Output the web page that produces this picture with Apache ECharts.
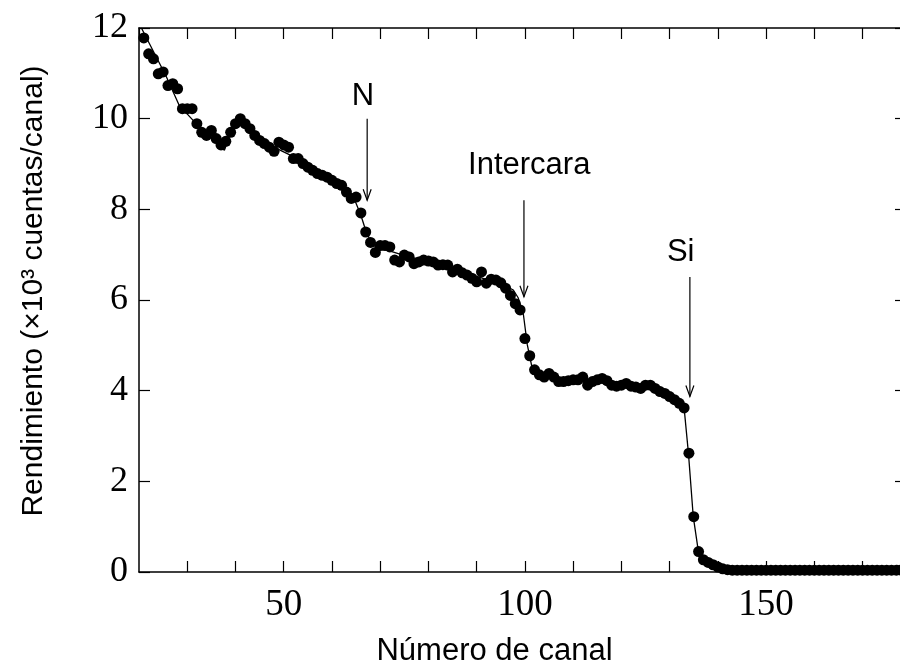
<!DOCTYPE html>
<html><head><meta charset="utf-8">
<script src="https://cdn.jsdelivr.net/npm/echarts@6/dist/echarts.min.js"></script>
<style>html,body{margin:0;padding:0;background:#fff;overflow:hidden}#c{width:900px;height:666px}</style>
</head><body><div id="c"></div>
<script>
// Measured yield (x10^3 counts/channel), channels 21..178
const firstChannel = 21;
const counts = [
 11.78, 11.43, 11.32, 10.99, 11.03, 10.73, 10.77, 10.66, 10.22, 10.22,
 10.22, 9.89, 9.70, 9.63, 9.74, 9.56, 9.42, 9.50, 9.70, 9.89,
 10.00, 9.89, 9.78, 9.63, 9.52, 9.45, 9.37, 9.28, 9.48, 9.42,
 9.37, 9.12, 9.12, 9.01, 8.93, 8.86, 8.79, 8.75, 8.71, 8.64,
 8.57, 8.53, 8.38, 8.24, 8.27, 7.92, 7.50, 7.27, 7.05, 7.20,
 7.20, 7.17, 6.88, 6.84, 6.99, 6.95, 6.80, 6.84, 6.88, 6.86,
 6.84, 6.77, 6.78, 6.77, 6.62, 6.68, 6.60, 6.55, 6.48, 6.40,
 6.62, 6.37, 6.46, 6.44, 6.38, 6.26, 6.10, 5.92, 5.78, 5.15,
 4.77, 4.46, 4.35, 4.30, 4.38, 4.30, 4.20, 4.20, 4.22, 4.24,
 4.24, 4.30, 4.12, 4.20, 4.24, 4.27, 4.22, 4.12, 4.10, 4.12,
 4.16, 4.10, 4.08, 4.05, 4.12, 4.12, 4.05, 3.98, 3.94, 3.87,
 3.80, 3.72, 3.62, 2.62, 1.22, 0.45, 0.27, 0.21, 0.16, 0.11,
 0.07, 0.05, 0.04, 0.04, 0.04, 0.04, 0.04, 0.04, 0.04, 0.04,
 0.04, 0.04, 0.04, 0.04, 0.04, 0.04, 0.04, 0.04, 0.04, 0.04,
 0.04, 0.04, 0.04, 0.04, 0.04, 0.04, 0.04, 0.04, 0.04, 0.04,
 0.04, 0.04, 0.04, 0.04, 0.04, 0.04, 0.04, 0.04
];
// Simulated spectrum (solid line)
const fitX = [20.5, 25.6, 28.3, 31.5, 36.0, 37.7, 40.2, 42.2, 47.0, 53.6, 58.0, 61.9, 64.4, 66.0, 67.1, 68.5, 74.4, 82.6, 91.0, 96.1, 97.6, 98.6, 99.7, 100.5, 101.5, 103.4, 115.8, 126.2, 130.4, 133.0, 133.9, 134.9, 135.9, 137.1, 139.7, 141.7, 178.5];
const fitY = [12.0, 10.94, 10.30, 9.93, 9.48, 9.30, 10.03, 9.87, 9.42, 9.08, 8.78, 8.54, 8.29, 7.87, 7.50, 7.20, 7.00, 6.77, 6.49, 6.30, 6.22, 6.05, 5.67, 5.01, 4.50, 4.28, 4.24, 4.06, 3.91, 3.62, 2.62, 1.22, 0.50, 0.23, 0.05, 0.00, 0.00];
// Annotations
const annotLabels = ['N', 'Intercara', 'Si'];
const annotX = [67.3, 99.8, 134.2];
const annotTop = [10.0, 8.2, 6.51];
const annotTip = [8.2, 6.07, 3.87];
const annotLabelX = [66.4, 100.9, 132.3];
const annotLabelY = [10.49, 8.97, 7.04];
const xTickLabels = [50, 100, 150];

const channels = counts.map((_, i) => firstChannel + i);
const scatterData = counts.map((v, i) => [channels[i], v]);
const fitData = fitX.map((x, i) => [x, fitY[i]]);
const annotData = annotLabels.map((_, i) => [annotX[i], annotTop[i], annotTip[i], annotLabelX[i], annotLabelY[i]]);

const axisLineStyle = { color: '#000', width: 1.5 };
const tickStyle = { show: true, inside: true, length: 11, lineStyle: { color: '#000', width: 1.2 } };
const sansFont = 'Liberation Sans';

const chart = echarts.init(document.getElementById('c'), null, { renderer: 'canvas' });
chart.setOption({
  animation: false,
  backgroundColor: '#fff',
  grid: { left: 139, top: 28, width: 767, height: 544, containLabel: false, outerBoundsMode: 'none' },
  xAxis: [
    {
      type: 'value', min: 20, max: 179, interval: 10, position: 'bottom',
      axisLine: { show: true, onZero: false, lineStyle: axisLineStyle },
      axisTick: tickStyle,
      splitLine: { show: false },
      axisLabel: {
        fontFamily: 'Liberation Serif', fontSize: 37, color: '#000', margin: 15,
        showMinLabel: false, showMaxLabel: false,
        formatter: v => xTickLabels.indexOf(v) >= 0 ? String(v) : ''
      },
      name: 'Número de canal', nameLocation: 'middle', nameGap: 64,
      nameTextStyle: { fontFamily: sansFont, fontSize: 31, color: '#000', padding: [0, 56, 0, 0] }
    },
    {
      type: 'value', min: 20, max: 179, interval: 10, position: 'top',
      axisLine: { show: true, onZero: false, lineStyle: axisLineStyle },
      axisTick: tickStyle, axisLabel: { show: false }, splitLine: { show: false }
    }
  ],
  yAxis: [
    {
      type: 'value', min: 0, max: 12, interval: 2, position: 'left',
      axisLine: { show: true, onZero: false, lineStyle: axisLineStyle },
      axisTick: tickStyle,
      splitLine: { show: false },
      axisLabel: { fontFamily: 'Liberation Serif', fontSize: 36, color: '#000', margin: 11 },
      name: 'Rendimiento (×10³ cuentas/canal)', nameLocation: 'middle', nameGap: 90,
      nameTextStyle: { fontFamily: sansFont, fontSize: 30, color: '#000', padding: [0, 0, 0, 18] }
    },
    {
      type: 'value', min: 0, max: 12, interval: 2, position: 'right',
      axisLine: { show: true, onZero: false, lineStyle: axisLineStyle },
      axisTick: tickStyle, axisLabel: { show: false }, splitLine: { show: false }
    }
  ],
  series: [
    {
      type: 'line', data: fitData, showSymbol: false, symbol: 'none',
      lineStyle: { color: '#000', width: 1.3 }, z: 2, silent: true
    },
    {
      type: 'scatter', data: scatterData, symbol: 'circle', symbolSize: 11,
      itemStyle: { color: '#000', opacity: 1 }, z: 3
    },
    {
      type: 'custom', data: annotData, z: 4, silent: true,
      renderItem: (params, api) => {
        const top = api.coord([api.value(0), api.value(1)]);
        const tip = api.coord([api.value(0), api.value(2)]);
        const lab = api.coord([api.value(3), api.value(4)]);
        return {
          type: 'group', children: [
            { type: 'line', shape: { x1: top[0], y1: top[1], x2: tip[0], y2: tip[1] }, style: { stroke: '#000', lineWidth: 1.2 } },
            { type: 'polyline', shape: { points: [[tip[0] - 4, tip[1] - 11], [tip[0], tip[1]], [tip[0] + 4, tip[1] - 11]] }, style: { stroke: '#000', lineWidth: 1.2, fill: null } },
            { type: 'text', x: lab[0], y: lab[1], style: { text: annotLabels[params.dataIndex], fill: '#000', fontSize: 31, fontFamily: sansFont, align: 'center', verticalAlign: 'middle' } }
          ]
        };
      }
    }
  ]
});
</script>
</body></html>
